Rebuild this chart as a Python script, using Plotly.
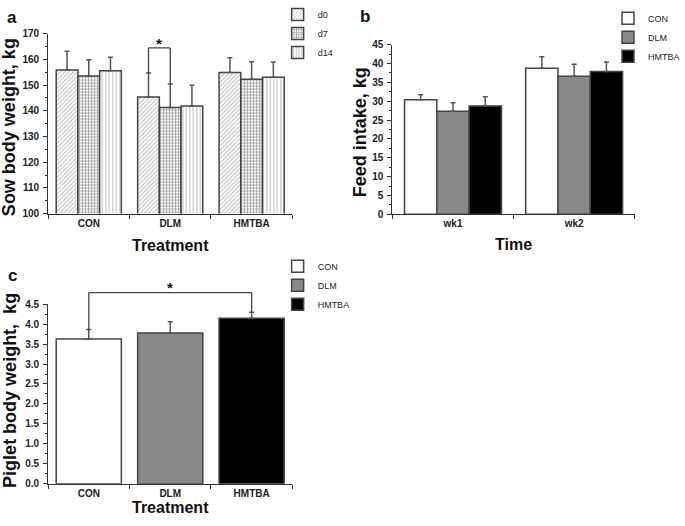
import plotly.graph_objects as go

# ---------------- data ----------------
treatments = ["CON", "DLM", "HMTBA"]
days = ["d0", "d7", "d14"]
# Panel a: sow body weight (kg) by treatment, one list per day
sow_d0 = [155.8, 145.3, 154.9]
sow_d0_err = [7.3, 9.4, 5.7]
sow_d7 = [153.5, 141.3, 152.2]
sow_d7_err = [6.3, 9.1, 6.8]
sow_d14 = [155.5, 141.8, 153.0]
sow_d14_err = [5.3, 8.1, 5.9]

# Panel b: feed intake (kg) by week, one list per treatment
weeks = ["wk1", "wk2"]
feed_con = [30.4, 38.7]
feed_con_err = [1.3, 3.1]
feed_dlm = [27.3, 36.6]
feed_dlm_err = [2.3, 3.2]
feed_hmtba = [28.7, 37.9]
feed_hmtba_err = [2.5, 2.5]

# Panel c: piglet body weight (kg)
piglet = [3.63, 3.78, 4.15]
piglet_err = [0.24, 0.28, 0.15]

W, H = 685, 526
FONT = "Liberation Sans, Arial, sans-serif"
LINE = "#333333"
ERR = "#555555"

def xd(a, b):
    return [a / W, b / W]

def yd(top, bottom):
    return [1 - bottom / H, 1 - top / H]

def px(x):
    return x / W

def py(y):
    return 1 - y / H

fig = go.Figure()

def err(arr):
    return dict(type="data", symmetric=False, array=arr, arrayminus=[0] * len(arr),
                color=ERR, thickness=1.5, width=2.5)

# ---- panel a ----
patterns = [dict(shape="/", fgcolor="#666666", bgcolor="white", size=3, solidity=0.3),
            dict(shape="+", fgcolor="#444444", bgcolor="white", size=3, solidity=0.5),
            dict(shape="|", fgcolor="#777777", bgcolor="white", size=3.5, solidity=0.3)]
for name, vals, e, pat in zip(days, [sow_d0, sow_d7, sow_d14],
                              [sow_d0_err, sow_d7_err, sow_d14_err], patterns):
    fig.add_trace(go.Bar(x=treatments, y=vals, name=name, error_y=err(e),
                         marker=dict(color="white", pattern=pat,
                                     line=dict(color="#444444", width=1.5)),
                         xaxis="x", yaxis="y", legend="legend"))

# ---- panel b ----
fills = ["white", "#888888", "black"]
for name, vals, e, c in zip(treatments, [feed_con, feed_dlm, feed_hmtba],
                            [feed_con_err, feed_dlm_err, feed_hmtba_err], fills):
    fig.add_trace(go.Bar(x=weeks, y=vals, name=name, error_y=err(e),
                         marker=dict(color=c, line=dict(color="#444444", width=1.5)),
                         xaxis="x2", yaxis="y2", legend="legend2"))

# ---- panel c ----
for i, (name, c) in enumerate(zip(treatments, fills)):
    fig.add_trace(go.Bar(x=[treatments[i]], y=[piglet[i]], name=name,
                         error_y=err([piglet_err[i]]), offsetgroup="c",
                         marker=dict(color=c, line=dict(color="#444444", width=1.5)),
                         xaxis="x3", yaxis="y3", legend="legend3"))

tickfont = dict(family=FONT, size=10, color="#222222", weight="bold")

def xaxis(domain, anchor):
    return dict(domain=domain, anchor=anchor, type="category", showline=True,
                linecolor=LINE, linewidth=1, ticks="outside", ticklen=4,
                tickcolor=LINE, tickson="boundaries", tickfont=tickfont,
                showgrid=False, zeroline=False, fixedrange=True)

def yaxis(domain, anchor, rng, dtick, fmt=None):
    d = dict(domain=domain, anchor=anchor, range=rng, dtick=dtick,
             showline=True, linecolor=LINE, linewidth=1, ticks="outside",
             ticklen=4, tickcolor=LINE, tickfont=tickfont, showgrid=False,
             zeroline=False, ticklabelstandoff=2,
             minor=dict(ticks="outside", ticklen=2, dtick=dtick / 2,
                        tickcolor=LINE, showgrid=False))
    if fmt:
        d["tickformat"] = fmt
    return d

legfont = dict(family=FONT, size=9, color="#222222")

def legend(x, ymid):
    return dict(x=px(x), y=py(ymid), xanchor="left", yanchor="middle", font=legfont,
                bgcolor="rgba(0,0,0,0)", itemclick=False, itemdoubleclick=False)

fig.update_layout(
    width=W, height=H, margin=dict(l=0, r=0, t=0, b=0),
    paper_bgcolor="white", plot_bgcolor="white",
    barmode="group", bargap=0.2, bargroupgap=0,
    xaxis=xaxis(xd(49, 298), "y"),
    yaxis=yaxis(yd(24.3, 210), "x", [100, 170], 10),
    xaxis2=xaxis(xd(400, 647), "y2"),
    yaxis2=yaxis(yd(35.7, 210.7), "x2", [0, 45], 5),
    xaxis3=xaxis(xd(49, 298), "y3"),
    yaxis3=yaxis(yd(303.5, 488.5), "x3", [0, 4.5], 0.5, ".1f"),
    legend=legend(283, 24),
    legend2=legend(620, 28),
    legend3=legend(283, 284),
)

title_font = dict(family=FONT, size=18, color="#111111", weight="bold")
xt_font = dict(family=FONT, size=16, color="#111111", weight="bold")
lab_font = dict(family=FONT, size=17, color="#111111", weight="bold")
ann = []
# axis titles
ann.append(dict(text="Sow body weight, kg", x=px(10), y=py(121), textangle=-90, font=title_font))
ann.append(dict(text="Treatment", x=px(173.5), y=py(243), font=xt_font))
ann.append(dict(text="Feed intake, kg", x=px(367), y=py(126), textangle=-90, font=title_font))
ann.append(dict(text="Time", x=px(523.5), y=py(242), font=xt_font))
ann.append(dict(text="Piglet body weight,\u00a0 kg", x=px(10), y=py(392), textangle=-90, font=title_font))
ann.append(dict(text="Treatment", x=px(173.5), y=py(513), font=xt_font))
# panel labels
ann.append(dict(text="a", x=px(12.5), y=py(8), font=lab_font))
ann.append(dict(text="b", x=px(372), y=py(7), font=lab_font))
ann.append(dict(text="c", x=px(13), y=py(274), font=lab_font))
for a in ann:
    a.update(xref="paper", yref="paper", showarrow=False, xanchor="center", yanchor="middle")

# significance markers
bw = 0.8 / 3  # width of one grouped bar in category units
i_dlm = treatments.index("DLM")
xa0, xa1 = i_dlm - bw, i_dlm
ytop_a = 164.4
shapes = [
    dict(type="line", xref="x", yref="y", x0=xa0, x1=xa0, y0=sow_d0[i_dlm] + sow_d0_err[i_dlm], y1=ytop_a),
    dict(type="line", xref="x", yref="y", x0=xa0, x1=xa1, y0=ytop_a, y1=ytop_a),
    dict(type="line", xref="x", yref="y", x0=xa1, x1=xa1, y0=sow_d7[i_dlm] + sow_d7_err[i_dlm], y1=ytop_a),
]
ann.append(dict(text="*", xref="x", yref="y", x=(xa0 + xa1) / 2, y=166.0, showarrow=False,
                font=dict(family=FONT, size=15, color="#111111", weight="bold"), yanchor="middle"))

cmax = 4.5
ytop_c = 4.79
shapes += [
    dict(type="line", xref="x3", yref="y3 domain", x0=0, x1=0, y0=(piglet[0] + piglet_err[0]) / cmax, y1=ytop_c / cmax),
    dict(type="line", xref="x3", yref="y3 domain", x0=0, x1=2, y0=ytop_c / cmax, y1=ytop_c / cmax),
    dict(type="line", xref="x3", yref="y3 domain", x0=2, x1=2, y0=(piglet[2] + piglet_err[2]) / cmax, y1=ytop_c / cmax),
]
for s in shapes:
    s["line"] = dict(color="#444444", width=1.3)
ann.append(dict(text="*", xref="x3", yref="y3 domain", x=1, y=4.93 / cmax, showarrow=False,
                font=dict(family=FONT, size=15, color="#111111", weight="bold"), yanchor="middle"))

fig.update_layout(annotations=ann, shapes=shapes)
fig.write_html("out.html", config={"displayModeBar": False},
               post_script="document.body.style.margin='0';")
